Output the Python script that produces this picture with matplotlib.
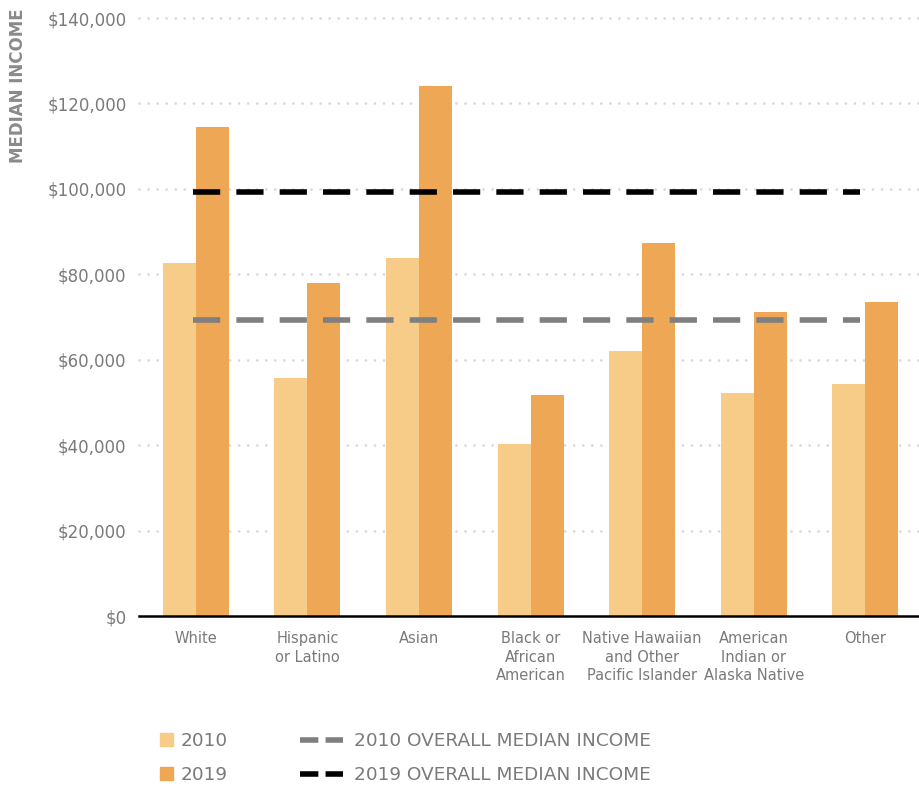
import matplotlib.pyplot as plt
import numpy as np
from matplotlib.lines import Line2D
from matplotlib.patches import Patch

groups = ["White", "Hispanic\nor Latino", "Asian", "Black or\nAfrican\nAmerican",
          "Native Hawaiian\nand Other\nPacific Islander", "American\nIndian or\nAlaska Native",
          "Other"]
income_2010 = [82600, 55700, 83800, 40300, 62000, 52200, 54300]
income_2019 = [114500, 78000, 124100, 51700, 87300, 71200, 73500]
median_2010 = 69300
median_2019 = 99300

yticks = [0, 20000, 40000, 60000, 80000, 100000, 120000, 140000]

LIGHT = "#F7CC88"
ORANGE = "#EEA855"
GREY = "#7F7F7F"
TEXT = "#7A7A7A"

plt.rcParams["font.family"] = ["DejaVu Sans"]

fig = plt.figure(figsize=(9.2, 7.86), dpi=100)
ax = fig.add_axes([139 / 920, 1 - 616 / 786, 781 / 920, 598 / 786])

x = np.arange(len(groups))
w = 0.296
ax.bar(x - w / 2, income_2010, w, color=LIGHT, zorder=2)
ax.bar(x + w / 2, income_2019, w, color=ORANGE, zorder=2)

# overall medians: long dashes across the groups
ax.plot([-0.03, 5.95], [median_2010] * 2, color=GREY, lw=4, dashes=(4.9, 2.9), zorder=3)
ax.plot([-0.03, 5.95], [median_2019] * 2, color="black", lw=4, dashes=(4.9, 2.9), zorder=3)

for t in yticks[1:]:
    ax.axhline(t, color="#D9D9D9", linewidth=2.0, linestyle=(0, (0.01, 3.25)),
               dash_capstyle="round", zorder=1, clip_on=False)

ax.set_xlim(-0.51, 6.49)
ax.set_ylim(0, 140000)
ax.set_yticks(yticks)
ax.set_yticklabels([f"${v:,}" for v in yticks])
ax.set_xticks(x)
ax.set_xticklabels(groups, linespacing=1.3)
ax.tick_params(axis="y", length=0, pad=9, labelsize=12, labelcolor=TEXT)
ax.tick_params(axis="x", length=0, pad=11, labelsize=10.5, labelcolor=TEXT)
for s in ["top", "right", "left"]:
    ax.spines[s].set_visible(False)
ax.spines["bottom"].set_linewidth(1.8)
ax.spines["bottom"].set_color("black")
ax.spines["bottom"].set_zorder(4)

fig.text(18 / 920, 1 - 86 / 786, "MEDIAN INCOME", rotation=90, ha="center", va="center",
         fontsize=12, fontweight="bold", color="#8A8A8A")

year_handles = [Patch(color=LIGHT, label="2010"), Patch(color=ORANGE, label="2019")]
line_handles = [
    Line2D([], [], color=GREY, lw=4, dashes=(3.3, 1.3), label="2010 OVERALL MEDIAN INCOME"),
    Line2D([], [], color="black", lw=4, dashes=(3.3, 1.3), label="2019 OVERALL MEDIAN INCOME"),
]
leg1 = fig.legend(handles=year_handles, loc="upper left", bbox_to_anchor=(160 / 920, 1 - 732 / 786),
                  frameon=False, fontsize=13.3, labelcolor=TEXT, borderpad=0, borderaxespad=0,
                  handlelength=0.7, handleheight=0.7, handletextpad=0.4, labelspacing=0.88)
leg2 = fig.legend(handles=line_handles, loc="upper left", bbox_to_anchor=(300 / 920, 1 - 732 / 786),
                  frameon=False, fontsize=13.3, labelcolor=TEXT, borderpad=0, borderaxespad=0,
                  handlelength=2.35, handletextpad=0.55, labelspacing=0.88)

fig.savefig("out.png", dpi=100)
